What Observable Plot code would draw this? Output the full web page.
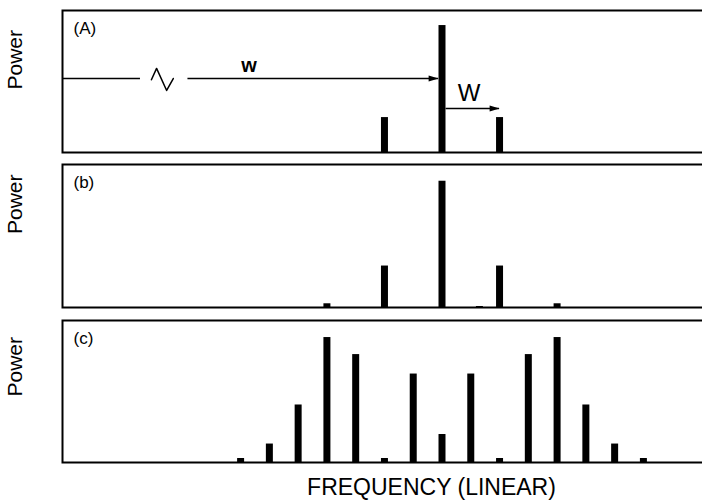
<!DOCTYPE html>
<html>
<head>
<meta charset="utf-8">
<script src="https://cdn.jsdelivr.net/npm/d3@7"></script>
<script src="https://cdn.jsdelivr.net/npm/@observablehq/plot@0.6"></script>
<style>
  html, body { margin: 0; padding: 0; background: #fff; overflow: hidden; }
  #wrap { width: 702px; height: 501px; overflow: hidden; position: relative; }
  #wrap svg { display: block; max-width: none !important; width: 800px !important; }
</style>
</head>
<body>
<div id="wrap"></div>
<script>
// ---- data (frequency offsets in units of W/2 from the carrier; power relative to panel height) ----
const panelLabels = ["(A)", "(b)", "(c)"];
const yLabel = "Power";
const xLabel = "FREQUENCY (LINEAR)";

const freqA = [-2, 0, 2];
const powerA = [0.246, 0.894, 0.246];

const freqB = [-4, -2, 0, 1.3, 2, 4];
const powerB = [0.026, 0.29, 0.883, 0.007, 0.29, 0.026];

const freqC = [-7, -6, -5, -4, -3, -2, -1, 0, 1, 2, 3, 4, 5, 6, 7];
const powerC = [0.028, 0.13, 0.405, 0.88, 0.76, 0.028, 0.623, 0.197, 0.623, 0.028, 0.76, 0.88, 0.405, 0.13, 0.028];

// annotation in panel A (same units)
const xDomain = [-13.19, 12.46];
const wLine = [{x1: -13.19, x2: -10.48}, {x1: -8.83, x2: -0.12}];
const wLineY = 0.521;
const breakX = [-10.10, -9.92, -9.57, -9.34];
const breakY = [0.512, 0.592, 0.437, 0.521];
const bigWArrow = {x1: 0.14, x2: 2.0, y: 0.31};
const smallWLabel = {text: "w", x: -6.71, y: 0.57};
const bigWLabel = {text: "W", x: 0.94, y: 0.366};

const FONT = "'Liberation Sans', Arial, Helvetica, sans-serif";

// narrow filled arrowhead with its tip at the anchor point, pointing right
const arrowHead = {
  draw(context, size) {
    const r = Math.sqrt(size / Math.PI);
    const L = 3.3 * r, H = 1.0 * r;
    context.moveTo(0, 0);
    context.lineTo(-L, -H);
    context.lineTo(-L, H);
    context.closePath();
  }
};

function bars(freq, power) {
  const data = freq.map((f, i) => ({f, p: power[i]}));
  return Plot.ruleX(data, {x: "f", y1: 0, y2: "p", stroke: "black", strokeWidth: 7});
}

function panel({height, marginTop, marginBottom, label, powerDy, marks, bottomText}) {
  return Plot.plot({
    width: 800,
    height,
    marginLeft: 62,
    marginRight: 0,
    marginTop,
    marginBottom,
    x: {domain: xDomain, axis: null},
    y: {domain: [0, 1], axis: null},
    style: {fontFamily: FONT, background: "white", color: "black", overflow: "visible", maxWidth: "none"},
    marks: [
      ...marks,
      Plot.frame({stroke: "black", strokeWidth: 2}),
      Plot.text([label], {text: d => d, frameAnchor: "top-left", textAnchor: "start", lineAnchor: "top", dx: 11, dy: 11, fontSize: 17, fill: "black"}),
      Plot.text([yLabel], {text: d => d, frameAnchor: "left", rotate: -90, dx: -47, dy: powerDy, fontSize: 21, fill: "black"}),
      ...(bottomText ? [Plot.text([bottomText], {text: d => d, frameAnchor: "bottom", lineAnchor: "top", dy: 16, fontSize: 23, fill: "black"})] : [])
    ]
  });
}

const breakPts = breakX.map((x, i) => ({x, y: breakY[i]}));

const pA = panel({
  height: 160, marginTop: 10, marginBottom: 8, label: panelLabels[0], powerDy: 8,
  marks: [
    bars(freqA, powerA),
    Plot.ruleY(wLine, {x1: "x1", x2: "x2", y: wLineY, stroke: "black", strokeWidth: 1.5}),
    Plot.line(breakPts, {x: "x", y: "y", stroke: "black", strokeWidth: 1.5}),
    Plot.dot([wLine[1]], {x: "x2", y: wLineY, symbol: arrowHead, r: 3, fill: "black", stroke: null}),
    Plot.ruleY([bigWArrow], {x1: "x1", x2: "x2", y: "y", stroke: "black", strokeWidth: 1.5}),
    Plot.dot([bigWArrow], {x: "x2", y: "y", symbol: arrowHead, r: 3, fill: "black", stroke: null}),
    Plot.text([smallWLabel], {x: "x", y: "y", text: "text", fontSize: 20, fontWeight: "bold", lineAnchor: "bottom", fill: "black"}),
    Plot.text([bigWLabel], {x: "x", y: "y", text: "text", fontSize: 24, lineAnchor: "bottom", fill: "black"})
  ]
});

const pB = panel({
  height: 156, marginTop: 4, marginBottom: 9, label: panelLabels[1], powerDy: -2,
  marks: [bars(freqB, powerB)]
});

const pC = panel({
  height: 185, marginTop: 4, marginBottom: 39, label: panelLabels[2], powerDy: 5,
  marks: [bars(freqC, powerC)],
  bottomText: xLabel
});

const wrap = document.getElementById("wrap");
wrap.append(pA, pB, pC);
</script>
</body>
</html>
